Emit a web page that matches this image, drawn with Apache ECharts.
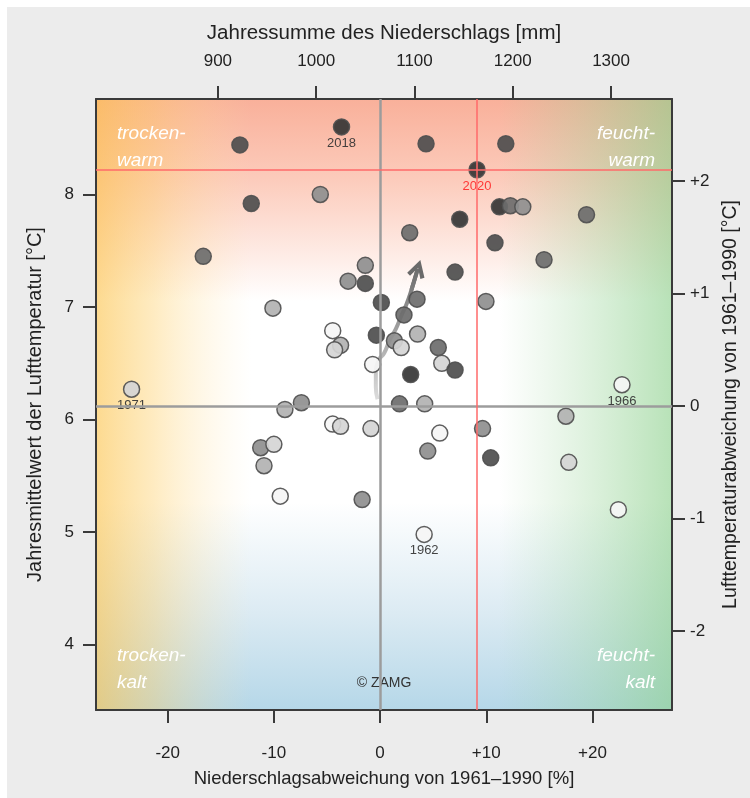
<!DOCTYPE html>
<html>
<head>
<meta charset="utf-8">
<title>Niederschlag und Lufttemperatur</title>
<script src="https://cdn.jsdelivr.net/npm/echarts@6.0.0/dist/echarts.min.js"></script>
<style>
    html, body { margin: 0; padding: 0; background: #fff; }
    #chart { width: 750px; height: 798px; }
</style>
</head>
<body>
<div id="chart"></div>
<script>
// Niederschlagsabweichung von 1961-1990 [%] je Jahr
var precipDev = [-23.4, -16.65, -13.2, -12.13, -10.09, -11.24, -10.0, -10.93, -9.4, -8.96,
    -7.41, -5.63, -3.63, -4.46, -3.72, -4.28, -3.01, -1.39, -1.39, 0.12,
    -0.35, -0.70, -4.46, -3.72, -0.86, -1.69, 1.35, 1.99, 2.25, 3.48,
    3.53, 2.79, 4.33, 2.88, 1.83, 4.20, 5.48, 5.81, 7.06, 5.62,
    4.49, 4.15, 7.06, 7.50, 9.13, 9.65, 10.42, 9.97, 10.82, 11.24,
    12.27, 13.44, 11.84, 15.44, 19.44, 17.5, 17.77, 22.78, 22.44];
// Jahresmittelwert der Lufttemperatur [°C]
var tempMean = [6.27, 7.45, 8.44, 7.92, 6.99, 5.75, 5.78, 5.59, 5.32, 6.09,
    6.15, 8.00, 8.60, 6.79, 6.66, 6.62, 7.23, 7.37, 7.21, 7.04,
    6.75, 6.49, 5.96, 5.94, 5.92, 5.29, 6.70, 6.64, 6.93, 7.07,
    6.76, 7.66, 8.45, 6.40, 6.14, 6.14, 6.64, 6.50, 6.44, 5.88,
    5.72, 4.98, 7.31, 7.78, 8.22, 5.92, 5.66, 7.05, 7.57, 7.89,
    7.90, 7.89, 8.45, 7.42, 7.82, 6.03, 5.62, 6.31, 5.20];
// Grauwert der Punkte (0 = hell/alt, 6 = dunkel/jung)
var shade = [1, 4, 5, 5, 2, 3, 1, 2, 0, 2,
    3, 3, 6, 0, 2, 1, 3, 3, 5, 5,
    5, 0, 0, 1, 1, 3, 3, 1, 4, 4,
    2, 4, 5, 6, 4, 2, 4, 1, 5, 0,
    3, 0, 5, 6, 6, 3, 5, 3, 5, 6,
    4, 3, 5, 4, 4, 2, 1, 0, 0];
var yearLabels = ['1971', '', '', '', '', '', '', '', '', '',
    '', '', '2018', '', '', '', '', '', '', '',
    '', '', '', '', '', '', '', '', '', '',
    '', '', '', '', '', '', '', '', '', '',
    '', '1962', '', '', '2020', '', '', '', '', '',
    '', '', '', '', '', '', '', '1966', ''];

// Trendpfeil
var trendX = [-0.24, -0.40, -0.40, -0.12, 0.38, 0.93, 1.51, 1.99, 2.47, 2.95, 3.55];
var trendY = [6.18, 6.29, 6.41, 6.53, 6.59, 6.71, 6.81, 6.92, 7.02, 7.15, 7.34];

// Achsen
var devTicks = [-20, -10, 0, 10, 20];
var mmTicks = [900, 1000, 1100, 1200, 1300];
var tempTicks = [4, 5, 6, 7, 8];
var anomTicks = [-2, -1, 0, 1, 2];
var baseTemp = 6.12;
var devRange = [-26.75, 27.49];
var mmRange = [776, 1362];
var tempRange = [3.42, 8.848];

var grid = { left: 96, top: 99, width: 576, height: 611 };
var fontFam = '"Liberation Sans", Arial, sans-serif';

var myChart = echarts.init(document.getElementById('chart'));

var idx2020 = yearLabels.indexOf('2020');
var points = [];
for (var i = 0; i < precipDev.length; i++) {
    var item = { value: [precipDev[i], tempMean[i], shade[i], yearLabels[i]] };
    if (yearLabels[i] === '2020') {
        item.label = { color: '#ff2b2b' };
    }
    points.push(item);
}
var trend = [];
for (var j = 0; j < trendX.length; j++) {
    trend.push([trendX[j], trendY[j]]);
}
var n = trend.length;

function signed(v) {
    return v > 0 ? '+' + v : '' + v;
}
function plain(v) {
    return '' + v;
}

function axisBase(pos, range, ticks, margin, fmt) {
    return {
        type: 'value',
        position: pos,
        min: range[0],
        max: range[1],
        axisLine: { show: true, onZero: false, lineStyle: { color: '#3a3a3a', width: 2 } },
        axisTick: { show: true, length: 13, customValues: ticks, lineStyle: { color: '#3a3a3a', width: 2 } },
        axisLabel: { customValues: ticks, margin: margin, fontSize: 17, color: '#222', fontFamily: fontFam, formatter: fmt },
        splitLine: { show: false },
        nameLocation: 'middle',
        nameTextStyle: { fontSize: 19, color: '#222', fontFamily: fontFam }
    };
}

var xBottom = axisBase('bottom', devRange, devTicks, 35, signed);
xBottom.name = 'Niederschlagsabweichung von 1961\u20131990 [%]';
xBottom.nameGap = 59;
xBottom.nameTextStyle.fontSize = 18.5;
var xTop = axisBase('top', mmRange, mmTicks, 29, plain);
xTop.name = 'Jahressumme des Niederschlags [mm]';
xTop.nameGap = 55;
xTop.nameTextStyle.fontSize = 20.5;
var yLeft = axisBase('left', tempRange, tempTicks, 22, plain);
yLeft.name = 'Jahresmittelwert der Lufttemperatur [\u00b0C]';
yLeft.nameGap = 51;
yLeft.nameRotate = 90;
yLeft.nameTextStyle.fontSize = 20;
var yRight = axisBase('right', [tempRange[0] - baseTemp, tempRange[1] - baseTemp], anomTicks, 18, signed);
yRight.name = 'Lufttemperaturabweichung von 1961\u20131990 [\u00b0C]';
yRight.nameGap = 47;
yRight.nameRotate = 90;
yRight.nameTextStyle.fontSize = 19.5;

var plotRect = { x: grid.left, y: grid.top, width: grid.width, height: grid.height };
var cornerFont = 'italic 19px ' + fontFam;

myChart.setOption({
    backgroundColor: '#ffffff',
    animation: false,
    grid: { left: grid.left, top: grid.top, width: grid.width, height: grid.height, outerBoundsMode: 'none' },
    xAxis: [xBottom, xTop],
    yAxis: [yLeft, yRight],
    visualMap: {
        type: 'continuous',
        show: false,
        seriesIndex: 3,
        dimension: 2,
        min: 0,
        max: 6,
        inRange: { color: ['#f5f5f5', '#cfcfcf', '#a3a3a3', '#7a7a7a', '#535353', '#353535'] }
    },
    graphic: [
        { type: 'rect', z: -20, silent: true, shape: { x: 7, y: 7, width: 743, height: 791 }, style: { fill: '#ececec' } },
        { type: 'rect', z: -19, silent: true, shape: plotRect, style: { fill: new echarts.graphic.LinearGradient(0, 0, 0, 1, [
            { offset: 0, color: '#f9b09a' },
            { offset: 0.13, color: '#fccbbb' },
            { offset: 0.33, color: '#ffffff' },
            { offset: 0.66, color: '#ffffff' },
            { offset: 0.84, color: '#dcebf3' },
            { offset: 1, color: '#b5d7e8' }
        ]) } },
        { type: 'rect', z: -18, silent: true, shape: plotRect, style: { fill: new echarts.graphic.LinearGradient(0, 0, 1, 0, [
            { offset: 0, color: 'rgba(252,195,75,0.62)' },
            { offset: 0.1, color: 'rgba(253,205,100,0.4)' },
            { offset: 0.27, color: 'rgba(255,230,170,0)' },
            { offset: 0.7, color: 'rgba(160,215,160,0)' },
            { offset: 0.87, color: 'rgba(150,212,150,0.35)' },
            { offset: 1, color: 'rgba(140,208,140,0.62)' }
        ]) } },
        { type: 'text', z: 1, silent: true, x: 117, y: 120, style: { text: 'trocken-\nwarm', fill: '#fff', font: cornerFont, lineHeight: 27, textAlign: 'left', align: 'left', textVerticalAlign: 'top', verticalAlign: 'top' } },
        { type: 'text', z: 1, silent: true, x: 655, y: 120, style: { text: 'feucht-\nwarm', fill: '#fff', font: cornerFont, lineHeight: 27, textAlign: 'right', align: 'right', textVerticalAlign: 'top', verticalAlign: 'top' } },
        { type: 'text', z: 1, silent: true, x: 117, y: 642, style: { text: 'trocken-\nkalt', fill: '#fff', font: cornerFont, lineHeight: 27, textAlign: 'left', align: 'left', textVerticalAlign: 'top', verticalAlign: 'top' } },
        { type: 'text', z: 1, silent: true, x: 655, y: 642, style: { text: 'feucht-\nkalt', fill: '#fff', font: cornerFont, lineHeight: 27, textAlign: 'right', align: 'right', textVerticalAlign: 'top', verticalAlign: 'top' } },
        { type: 'text', z: 1, silent: true, x: 384, y: 683, style: { text: '\u00a9 ZAMG', fill: '#333', font: '14px ' + fontFam, textAlign: 'center', align: 'center', textVerticalAlign: 'middle', verticalAlign: 'middle' } }
    ],
    series: [
        {
            // Bezugslinien
            type: 'scatter',
            z: 1,
            silent: true,
            data: [],
            markLine: {
                silent: true,
                symbol: 'none',
                label: { show: false },
                animation: false,
                data: [
                    { xAxis: 0, lineStyle: { color: '#9c9c9c', width: 2.5, type: 'solid' } },
                    { yAxis: baseTemp, lineStyle: { color: '#9c9c9c', width: 2.5, type: 'solid' } },
                    { xAxis: precipDev[idx2020], lineStyle: { color: '#ff6a6a', width: 1.5, type: 'solid' } },
                    { yAxis: tempMean[idx2020], lineStyle: { color: '#ff6a6a', width: 1.5, type: 'solid' } }
                ]
            }
        },
        {
            type: 'line',
            z: 2,
            silent: true,
            smooth: true,
            symbol: 'none',
            data: trend,
            lineStyle: {
                width: 4,
                color: new echarts.graphic.LinearGradient(0, 1, 0, 0, [
                    { offset: 0, color: '#dedede' },
                    { offset: 1, color: '#6a6a6a' }
                ])
            }
        },
        {
            type: 'lines',
            coordinateSystem: 'cartesian2d',
            z: 2,
            silent: true,
            symbol: ['none', 'path://M6,0 L12,10 L9.6,11.4 L6,5 L2.4,11.4 L0,10 Z'],
            symbolSize: [22, 18],
            lineStyle: { color: '#6a6a6a', width: 4, opacity: 1, curveness: 0 },
            data: [{ coords: [trend[n - 2], trend[n - 1]] }]
        },
        {
            type: 'scatter',
            z: 3,
            symbol: 'circle',
            symbolSize: 16,
            data: points,
            itemStyle: { borderColor: '#505050', borderWidth: 1.5, opacity: 0.92 },
            label: {
                show: true,
                position: 'bottom',
                distance: 1,
                fontSize: 13,
                color: '#333',
                fontFamily: fontFam,
                formatter: function (p) { return p.value[3]; }
            },
            emphasis: { disabled: true }
        }
    ]
});
</script>
</body>
</html>
